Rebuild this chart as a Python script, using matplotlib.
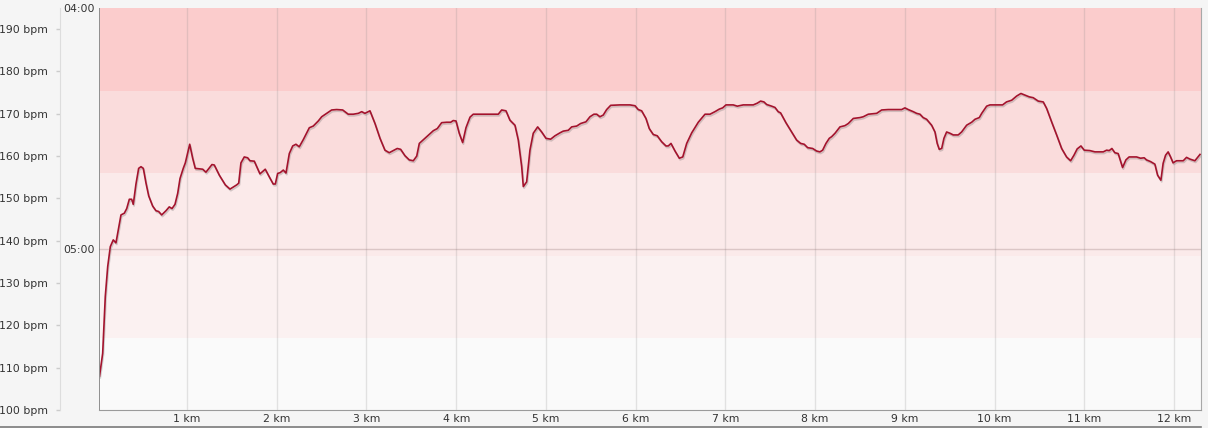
import matplotlib
matplotlib.use("Agg")
import matplotlib.pyplot as plt
import matplotlib.patheffects as pe
from matplotlib.lines import Line2D
from matplotlib.ticker import FixedLocator, FixedFormatter

# ---------------- data ----------------
distance_km = [
    0.025, 0.060, 0.089, 0.116, 0.145, 0.178, 0.208, 0.264, 0.301, 0.328,
    0.357, 0.383, 0.401, 0.431, 0.461, 0.487, 0.513, 0.543, 0.573, 0.617,
    0.654, 0.684, 0.718, 0.766, 0.802, 0.833, 0.866, 0.896, 0.922, 0.958,
    0.981, 1.030, 1.063, 1.092, 1.175, 1.211, 1.278, 1.304, 1.360, 1.427,
    1.479, 1.509, 1.554, 1.576, 1.601, 1.638, 1.676, 1.702, 1.750, 1.813,
    1.872, 1.917, 1.961, 1.984, 2.010, 2.039, 2.073, 2.103, 2.140, 2.178,
    2.214, 2.251, 2.296, 2.363, 2.407, 2.463, 2.501, 2.557, 2.612, 2.668,
    2.735, 2.797, 2.853, 2.909, 2.947, 2.983, 3.039, 3.095, 3.151, 3.206,
    3.254, 3.299, 3.343, 3.381, 3.429, 3.477, 3.522, 3.560, 3.589, 3.641,
    3.700, 3.745, 3.789, 3.838, 3.894, 3.939, 3.967, 3.998, 4.034, 4.072,
    4.109, 4.154, 4.190, 4.265, 4.376, 4.469, 4.507, 4.555, 4.599, 4.655,
    4.692, 4.730, 4.748, 4.785, 4.822, 4.859, 4.908, 4.953, 5.001, 5.053,
    5.101, 5.157, 5.193, 5.249, 5.287, 5.343, 5.387, 5.446, 5.491, 5.535,
    5.566, 5.602, 5.639, 5.677, 5.722, 5.826, 5.937, 5.993, 6.029, 6.067,
    6.115, 6.152, 6.197, 6.241, 6.290, 6.338, 6.364, 6.394, 6.439, 6.487,
    6.525, 6.569, 6.625, 6.698, 6.773, 6.829, 6.884, 6.932, 6.970, 7.007,
    7.088, 7.133, 7.199, 7.311, 7.355, 7.393, 7.430, 7.460, 7.516, 7.553,
    7.589, 7.616, 7.675, 7.739, 7.794, 7.839, 7.879, 7.917, 7.973, 8.017,
    8.054, 8.084, 8.121, 8.158, 8.185, 8.222, 8.277, 8.333, 8.370, 8.426,
    8.500, 8.537, 8.593, 8.686, 8.742, 8.815, 8.890, 8.965, 9.001, 9.038,
    9.094, 9.132, 9.169, 9.205, 9.243, 9.299, 9.336, 9.361, 9.384, 9.411,
    9.436, 9.466, 9.503, 9.540, 9.595, 9.633, 9.689, 9.745, 9.782, 9.830,
    9.857, 9.912, 9.949, 10.024, 10.090, 10.133, 10.191, 10.247, 10.294, 10.339,
    10.387, 10.431, 10.487, 10.543, 10.580, 10.636, 10.692, 10.748, 10.803, 10.848,
    10.885, 10.921, 10.963, 11.000, 11.063, 11.119, 11.212, 11.249, 11.278, 11.308,
    11.341, 11.378, 11.427, 11.464, 11.500, 11.583, 11.627, 11.668, 11.694, 11.739,
    11.787, 11.817, 11.854, 11.879, 11.906, 11.935, 11.962, 11.990, 12.028, 12.103,
    12.140, 12.177, 12.233, 12.290,
]
heart_rate_bpm = [
    108.0, 113.4, 126.8, 133.9, 138.6, 140.2, 139.5, 146.1, 146.5, 147.6,
    149.8, 149.8, 148.6, 153.4, 157.1, 157.5, 157.1, 153.6, 150.6, 148.2,
    147.1, 146.9, 146.1, 147.1, 148.0, 147.6, 148.6, 151.2, 154.7, 157.1,
    158.4, 162.8, 159.5, 157.1, 156.9, 156.2, 158.0, 157.9, 155.5, 153.2,
    152.2, 152.6, 153.2, 153.6, 158.4, 159.8, 159.6, 158.9, 158.8, 155.8,
    156.9, 155.1, 153.4, 153.4, 155.9, 156.1, 156.7, 156.0, 160.6, 162.4,
    162.8, 162.2, 163.9, 166.7, 167.1, 168.3, 169.3, 170.1, 170.9, 171.0,
    170.9, 169.9, 169.9, 170.1, 170.5, 170.1, 170.7, 167.7, 164.2, 161.4,
    160.8, 161.3, 161.8, 161.6, 160.1, 159.1, 158.9, 160.0, 163.0, 164.0,
    165.1, 166.0, 166.5, 167.9, 168.0, 168.0, 168.4, 168.3, 165.4, 163.2,
    166.7, 169.2, 169.9, 169.9, 169.9, 169.9, 170.9, 170.7, 168.5, 167.3,
    163.8, 157.5, 152.8, 153.9, 161.4, 165.4, 166.9, 165.7, 164.2, 164.0,
    164.8, 165.5, 165.9, 166.1, 166.9, 167.1, 167.7, 168.1, 169.3, 169.9,
    169.9, 169.3, 169.7, 171.0, 172.0, 172.1, 172.1, 171.9, 171.0, 170.7,
    168.9, 166.5, 165.1, 164.8, 163.4, 162.4, 162.4, 163.0, 161.2, 159.5,
    159.8, 163.0, 165.5, 168.0, 169.9, 169.9, 170.5, 171.1, 171.4, 172.1,
    172.1, 171.8, 172.1, 172.1, 172.5, 173.0, 172.8, 172.2, 171.8, 171.5,
    170.5, 170.2, 167.9, 165.7, 163.8, 163.0, 162.8, 162.0, 161.8, 161.2,
    161.0, 161.4, 163.0, 164.2, 164.6, 165.4, 166.9, 167.2, 167.7, 168.9,
    169.1, 169.3, 169.9, 170.1, 170.9, 171.0, 171.0, 171.0, 171.4, 171.0,
    170.5, 170.1, 169.9, 169.1, 168.7, 167.3, 165.7, 163.0, 161.6, 161.8,
    164.2, 165.7, 165.4, 165.0, 165.0, 165.7, 167.3, 168.0, 168.7, 169.1,
    170.1, 171.8, 172.1, 172.1, 172.1, 172.8, 173.2, 174.2, 174.8, 174.4,
    174.0, 173.8, 173.0, 172.8, 171.3, 168.1, 165.0, 161.8, 159.8, 158.9,
    160.2, 161.7, 162.4, 161.4, 161.3, 161.0, 161.0, 161.4, 161.3, 161.8,
    160.8, 160.6, 157.3, 159.1, 159.8, 159.8, 159.5, 159.6, 159.1, 158.7,
    158.1, 155.5, 154.3, 158.3, 160.2, 161.0, 159.8, 158.4, 158.9, 158.9,
    159.7, 159.3, 158.9, 160.4,
]

# heart-rate zones (bpm boundaries) and their fills
zone_edges = [100, 117, 136.5, 156, 175.5, 195]
zone_colors = ["#fafafa", "#fbf1f1", "#fbeaea", "#fadcdc", "#fbcccc"]

bpm_ticks = [100, 110, 120, 130, 140, 150, 160, 170, 180, 190]
bpm_labels = ["%d bpm" % v for v in bpm_ticks]
km_ticks = list(range(1, 13))
km_labels = ["%d km" % v for v in km_ticks]
pace_ticks = [4.0, 5.0]
pace_labels = ["04:00", "05:00"]

# ---------------- figure ----------------
W, H = 1208, 428
fig = plt.figure(figsize=(W / 100, H / 100), dpi=100)
fig.patch.set_facecolor("#f5f5f5")

left, right, top, bottom = 99, 1201, 8, 410
ax = fig.add_axes([left / W, (H - bottom) / H, (right - left) / W, (bottom - top) / H])
ax.set_facecolor("#fafafa")
ax.set_xlim(0.019, 12.301)
ax.set_ylim(100, 195)

for i, c in enumerate(zone_colors):
    ax.axhspan(zone_edges[i], zone_edges[i + 1], color=c, lw=0, zorder=0)

# vertical km gridlines
for k in km_ticks:
    ax.axvline(k, color="#8a8a8a", alpha=0.22, lw=1.0, zorder=1)

# pace axis (twin), 04:00 at top, 05:00 line
pax = ax.twinx()
pax.set_ylim(4.0 + (bottom - top) / 241.0, 4.0)
pax.axhline(5.0, color="#8a6a6a", alpha=0.28, lw=1.0, zorder=1)
pax.yaxis.set_ticks_position("left")
pax.yaxis.set_major_locator(FixedLocator(pace_ticks))
pax.yaxis.set_major_formatter(FixedFormatter(pace_labels))
pax.tick_params(axis="y", length=0, pad=3, labelsize=7.8, labelcolor="#333333")
for s in pax.spines.values():
    s.set_visible(False)

# heart rate line
ax.plot(distance_km, heart_rate_bpm, color="#a3132d", lw=1.2, zorder=5,
        solid_joinstyle="round",
        path_effects=[pe.SimpleLineShadow(offset=(0.6, -1.2), shadow_color="#555555", alpha=0.25),
                      pe.Normal()])

# spines
ax.spines["top"].set_visible(False)
ax.spines["bottom"].set_color("#9a9a9a")
ax.spines["right"].set_color("#a8a8a8")
ax.spines["left"].set_visible(False)
ax.axvline(0.019, color="#8f8f8f", lw=1.4, zorder=6)

# x ticks
ax.set_xticks(km_ticks)
ax.set_xticklabels(km_labels)
ax.tick_params(axis="x", length=0, pad=3, labelsize=7.8, labelcolor="#333333")

# left bpm axis on an offset spine
ax.set_yticks(bpm_ticks)
ax.tick_params(axis="y", left=False, labelleft=False)
bax = ax.secondary_yaxis(location=-(left - 60) / (right - left))
bax.set_yticks(bpm_ticks)
bax.set_yticklabels(bpm_labels)
bax.tick_params(axis="y", length=3, width=1, color="#cccccc", pad=5.5,
                labelsize=7.8, labelcolor="#333333")
bax.spines["left"].set_color("#dddddd")

# bottom frame line of figure
fig.add_artist(Line2D([0, right / W], [1 - 427 / H, 1 - 427 / H], color="#7a7a7a", lw=1.2))

fig.savefig("out.png", dpi=100, facecolor=fig.get_facecolor())
